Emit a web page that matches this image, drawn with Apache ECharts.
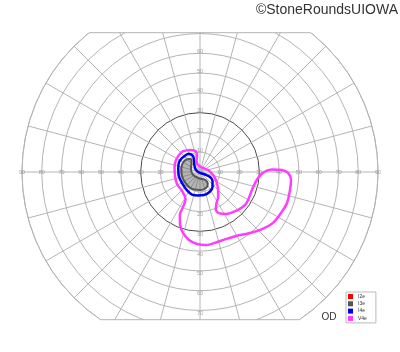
<!DOCTYPE html>
<html><head><meta charset="utf-8">
<script src="https://cdn.jsdelivr.net/npm/echarts@6/dist/echarts.min.js"></script>
<style>html,body{margin:0;padding:0;background:#fff}#c{width:400px;height:352px}</style>
</head><body><div id="c"></div>
<script>
// ring (eccentricity) ticks, degrees
const ringTicks = [0, 10, 20, 30, 40, 50, 60, 70, 80, 90];
const hLabelTicks = [10, 20, 30, 40, 50, 60, 70, 80, 90];
const vLabelTicks = [10, 20, 30, 40, 50, 60, 70];
const seriesNames = ['I2e', 'I3e', 'I4e', 'V4e'];
// isopters: [eccentricity (deg), meridian angle (deg, ccw from right)]
const I2e = [];
const I3e = [[9.5,140.4],[8.4,127.2],[6.4,131.8],[4.9,158.8],[3.8,199.7],[3.2,261],[4.9,304.5],[7.0,304.2],[8.6,290.6],[9.1,270],[9.4,251.1],[9.4,233.8],[9.2,213.7],[9.3,195],[9.6,170],[9.8,152],[9.5,140.4]];
const I4e = [[11.3,135.9],[10.8,121.2],[8.8,113.6],[6.3,118.6],[4.1,132.5],[2.3,153.4],[0.5,270],[2.8,333.4],[5.7,333.4],[7.8,324.3],[9.9,309.8],[11.2,295.4],[11.8,279.9],[11.9,265.1],[12.1,250.4],[11.4,234.9],[10.7,214.4],[10.9,192.1],[11.1,172.1],[11.7,155.7],[11.6,145.6],[11.3,135.9]];
const V4e = [[13.8,131.3],[12.2,114.4],[10.6,101.0],[8.2,100.6],[5.6,108.4],[2.8,90],[4.2,14],[6.8,347],[9.6,330],[12.9,315],[15.6,306],[17.8,298],[20.4,293],[23.1,295],[25.0,302],[26.8,313],[28.2,324],[28.0,332],[27.9,344],[29.5,354],[32.4,0],[36.4,2],[41.5,1.4],[44.5,359.4],[46.2,355],[46.4,348.7],[46.7,340.4],[45.9,333.2],[45.0,325.1],[42.6,317.4],[39.9,309.3],[37.1,299.4],[36.3,286.2],[37.0,274.7],[36.4,267.6],[34.8,260.8],[32.0,254.4],[28.2,249],[24.0,244.9],[19.7,244.1],[15.5,241.8],[13.2,226.5],[13.1,207.6],[12.8,189.1],[13.1,168.9],[13.6,151],[13.8,131.3]];

const CX = 200, CY = 172, R = 178, TOP = 32.7, BOTTOM = 319.7;
const GRID = '#b4b4b4';
const colors = {I2e: '#ff0000', I3e: '#555555', I4e: '#0000ee', V4e: '#ff3cff'};

function halfW(y) { const d = CY - y; return Math.sqrt(R * R - d * d); }

const ringColors = ringTicks.map(t => t === 30 ? '#4a4a4a' : GRID);

const labelData = [];
hLabelTicks.forEach(t => { labelData.push({value: [t, 0]}); labelData.push({value: [t, 180]}); });
vLabelTicks.forEach(t => {
  labelData.push({value: [t, 90], label: {offset: [0, -2]}});
  labelData.push({value: [t, 270], label: {offset: [0, 3]}});
});

function isopter(name, data, width) {
  return {
    name: name, type: 'line', coordinateSystem: 'polar', data: data,
    smooth: 0.35, showSymbol: false, symbol: 'none', z: 4,
    lineStyle: {color: colors[name], width: width},
    itemStyle: {color: colors[name]}
  };
}

const chart = echarts.init(document.getElementById('c'), null, {renderer: 'canvas'});
chart.setOption({
  animation: false,
  polar: {center: [CX, CY], radius: R},
  angleAxis: {
    type: 'value', min: 0, max: 360, interval: 15, startAngle: 0, clockwise: false,
    axisLine: {show: true, lineStyle: {color: GRID, width: 1}},
    axisTick: {show: false}, axisLabel: {show: false},
    splitLine: {show: true, lineStyle: {color: GRID, width: 1}}
  },
  radiusAxis: {
    type: 'value', min: 0, max: 90, interval: 10,
    axisLine: {show: false}, axisTick: {show: false}, axisLabel: {show: false},
    splitLine: {show: true, lineStyle: {color: ringColors, width: 1}}
  },
  legend: {
    orient: 'vertical', left: 346, top: 292, z: 20,
    itemWidth: 5, itemHeight: 5, itemGap: 2.3,
    padding: [2, 9, 2, 2], borderColor: '#bbb', borderWidth: 1, backgroundColor: '#fff',
    textStyle: {fontSize: 5, color: '#333', fontFamily: 'Liberation Sans, Arial'},
    icon: 'rect', selectedMode: false, data: seriesNames
  },
  graphic: [
    {type: 'rect', z: 10, silent: true, shape: {x: 0, y: 0, width: 400, height: TOP}, style: {fill: '#fff'}},
    {type: 'rect', z: 10, silent: true, shape: {x: 0, y: BOTTOM, width: 400, height: 352 - BOTTOM}, style: {fill: '#fff'}},
    {type: 'line', z: 11, silent: true, shape: {x1: CX - halfW(TOP), y1: TOP, x2: CX + halfW(TOP), y2: TOP}, style: {stroke: GRID, lineWidth: 1}},
    {type: 'line', z: 11, silent: true, shape: {x1: CX - halfW(BOTTOM), y1: BOTTOM, x2: CX + halfW(BOTTOM), y2: BOTTOM}, style: {stroke: GRID, lineWidth: 1}},
    {type: 'text', z: 12, x: 398, y: 3, style: {text: '©StoneRoundsUIOWA', fontSize: 14, fontFamily: 'Liberation Sans, Arial', fill: '#333', align: 'right', verticalAlign: 'top'}},
    {type: 'text', z: 12, x: 329, y: 317, style: {text: 'OD', fontSize: 10, fontFamily: 'Liberation Sans, Arial', fill: '#333', align: 'center', verticalAlign: 'middle'}}
  ],
  series: [
    {
      name: 'ticklabels', type: 'scatter', coordinateSystem: 'polar', symbolSize: 0, z: 3, silent: true,
      data: labelData,
      label: {show: true, position: 'inside', formatter: p => p.value[0], fontSize: 5.5, color: '#8a8a8a', fontFamily: 'Liberation Sans, Arial'}
    },
    {
      name: 'I3e-fill', type: 'custom', coordinateSystem: 'polar', silent: true, z: 3,
      data: [[0, 0]],
      renderItem: (params, api) => ({
        type: 'polygon',
        shape: {points: I3e.map(p => api.coord(p)), smooth: 0.3},
        style: {fill: 'rgba(90,90,90,0.45)'}
      })
    },
    isopter('I2e', I2e, 2),
    isopter('I3e', I3e, 2),
    isopter('I4e', I4e, 2.5),
    isopter('V4e', V4e, 2.5)
  ]
});
</script>
</body></html>
